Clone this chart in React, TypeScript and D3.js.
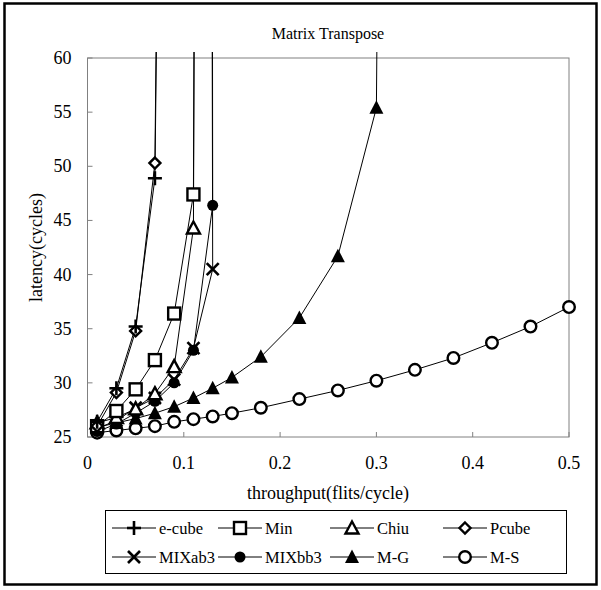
import React from "react";
import * as d3 from "d3";

type Pt = [number, number];

const eCube: Pt[] = [[0.01, 26.4], [0.03, 29.5], [0.05, 35.2], [0.07, 48.9], [0.0716, 61]];
const minS: Pt[] = [[0.01, 26.0], [0.03, 27.4], [0.05, 29.4], [0.07, 32.1], [0.09, 36.4], [0.11, 47.4], [0.1105, 61]];
const chiu: Pt[] = [[0.01, 26.3], [0.03, 26.8], [0.05, 27.6], [0.07, 29.0], [0.09, 31.5], [0.11, 44.3], [0.1108, 61]];
const pcube: Pt[] = [[0.01, 26.0], [0.03, 29.1], [0.05, 34.8], [0.07, 50.3], [0.0712, 61]];
const mixab3: Pt[] = [[0.01, 25.8], [0.03, 26.5], [0.05, 27.7], [0.07, 28.6], [0.09, 30.3], [0.11, 33.2], [0.13, 40.5], [0.1295, 61]];
const mixbb3: Pt[] = [[0.01, 25.5], [0.03, 26.2], [0.05, 27.2], [0.07, 28.3], [0.09, 30.0], [0.11, 33.0], [0.13, 46.4], [0.1298, 61]];
const mg: Pt[] = [[0.01, 25.9], [0.03, 26.3], [0.05, 26.7], [0.07, 27.2], [0.09, 27.8], [0.11, 28.6], [0.13, 29.5], [0.15, 30.5], [0.18, 32.4], [0.22, 36.0], [0.26, 41.7], [0.30, 55.4], [0.3005, 61]];
const ms: Pt[] = [[0.01, 25.4], [0.03, 25.6], [0.05, 25.8], [0.07, 26.0], [0.09, 26.4], [0.11, 26.65], [0.13, 26.9], [0.15, 27.2], [0.18, 27.7], [0.22, 28.5], [0.26, 29.3], [0.30, 30.2], [0.34, 31.2], [0.38, 32.3], [0.42, 33.7], [0.46, 35.2], [0.50, 37.0]];

const seriesNames = ["e-cube", "Min", "Chiu", "Pcube", "MIXab3", "MIXbb3", "M-G", "M-S"];
const seriesData = [eCube, minS, chiu, pcube, mixab3, mixbb3, mg, ms];
const seriesMarkers = ["plus", "square", "triangle", "diamond", "cross", "dot", "filledTriangle", "circle"];

const xTicks = [0, 0.1, 0.2, 0.3, 0.4, 0.5];
const yTicks = [25, 30, 35, 40, 45, 50, 55, 60];

const FONT = "Liberation Serif, Times New Roman, DejaVu Serif, serif";

function Marker({ kind, x, y }: { kind: string; x: number; y: number }) {
  const sw = 2.4;
  switch (kind) {
    case "plus":
      return (
        <g stroke="#000" strokeWidth={2.6}>
          <line x1={x - 7} x2={x + 7} y1={y} y2={y} />
          <line x1={x} x2={x} y1={y - 7} y2={y + 7} />
        </g>
      );
    case "cross":
      return (
        <g stroke="#000" strokeWidth={2.6}>
          <line x1={x - 6} x2={x + 6} y1={y - 6} y2={y + 6} />
          <line x1={x - 6} x2={x + 6} y1={y + 6} y2={y - 6} />
        </g>
      );
    case "square":
      return <rect x={x - 6} y={y - 6} width={12} height={12} fill="#fff" stroke="#000" strokeWidth={sw} />;
    case "triangle":
      return <path d={`M${x},${y - 6.5}L${x + 6.5},${y + 5.5}L${x - 6.5},${y + 5.5}Z`} fill="#fff" stroke="#000" strokeWidth={sw} />;
    case "filledTriangle":
      return <path d={`M${x},${y - 7.5}L${x + 7},${y + 6}L${x - 7},${y + 6}Z`} fill="#000" />;
    case "diamond":
      return <path d={`M${x},${y - 5.5}L${x + 5.5},${y}L${x},${y + 5.5}L${x - 5.5},${y}Z`} fill="#fff" stroke="#000" strokeWidth={sw} />;
    case "dot":
      return <circle cx={x} cy={y} r={5.5} fill="#000" />;
    case "circle":
      return <circle cx={x} cy={y} r={5.8} fill="#fff" stroke="#000" strokeWidth={sw} />;
  }
  return null;
}

export default function App() {
  const W = 601, H = 590;
  const L = 87.5, R = 569, T = 58, B = 437;
  const x = d3.scaleLinear().domain([0, 0.5]).range([L, R]);
  const y = d3.scaleLinear().domain([25, 60]).range([B, T]);
  const line = d3.line<Pt>().x(d => x(d[0])).y(d => y(d[1]));
  const order = [7, 6, 5, 4, 2, 1, 3, 0];

  const legCols = [112, 218, 330, 443];
  const legRows = [528, 557];
  const ts = { fontFamily: FONT };

  return (
    <svg width={W} height={H} style={{ position: "absolute", left: 0, top: 0, fontFamily: FONT }}>
      <rect x={0} y={0} width={W} height={H} fill="#fff" />
      <rect x={4.5} y={3.5} width={592} height={581} fill="none" stroke="#000" strokeWidth={2.5} />
      <defs>
        <clipPath id="clip">
          <rect x={L - 10} y={52} width={R - L + 20} height={B - 52 + 10} />
        </clipPath>
      </defs>
      <text style={ts} x={328} y={39} textAnchor="middle" fontSize={16}>Matrix Transpose</text>
      <rect x={L} y={T} width={R - L} height={B - T} fill="none" stroke="#808080" strokeWidth={1} />
      {yTicks.map(t => (
        <g key={"y" + t}>
          <line x1={L} x2={L + 5} y1={y(t)} y2={y(t)} stroke="#808080" />
          <text style={ts} x={L - 16} y={y(t) + 6} textAnchor="end" fontSize={18}>{t}</text>
        </g>
      ))}
      {xTicks.map(t => (
        <g key={"x" + t}>
          <line x1={x(t)} x2={x(t)} y1={B} y2={B - 5} stroke="#808080" />
          <text style={ts} x={x(t)} y={B + 32} textAnchor="middle" fontSize={18}>{t}</text>
        </g>
      ))}
      <text style={ts} x={328} y={499} textAnchor="middle" fontSize={18}>throughput(flits/cycle)</text>
      <text style={ts} transform={`translate(42,${(T + B) / 2}) rotate(-90)`} textAnchor="middle" fontSize={18}>latency(cycles)</text>
      <g clipPath="url(#clip)">
        {order.map(i => (
          <path key={"l" + i} d={line(seriesData[i]) || ""} fill="none" stroke="#000" strokeWidth={1} />
        ))}
        {order.map(i => (
          <g key={"m" + i}>
            {seriesData[i].filter(d => d[1] <= 60).map((d, j) => (
              <Marker key={j} kind={seriesMarkers[i]} x={x(d[0])} y={y(d[1])} />
            ))}
          </g>
        ))}
      </g>
      <rect x={105.5} y={510.5} width={461} height={63} fill="none" stroke="#000" strokeWidth={1} />
      {seriesNames.map((n, i) => {
        const cx = legCols[i % 4];
        const cy = legRows[Math.floor(i / 4)];
        return (
          <g key={"lg" + i}>
            <line x1={cx} x2={cx + 44} y1={cy} y2={cy} stroke="#000" strokeWidth={1} />
            <Marker kind={seriesMarkers[i]} x={cx + 22} y={cy} />
            <text style={ts} x={cx + 47} y={cy + 6} fontSize={16.5}>{n}</text>
          </g>
        );
      })}
    </svg>
  );
}
